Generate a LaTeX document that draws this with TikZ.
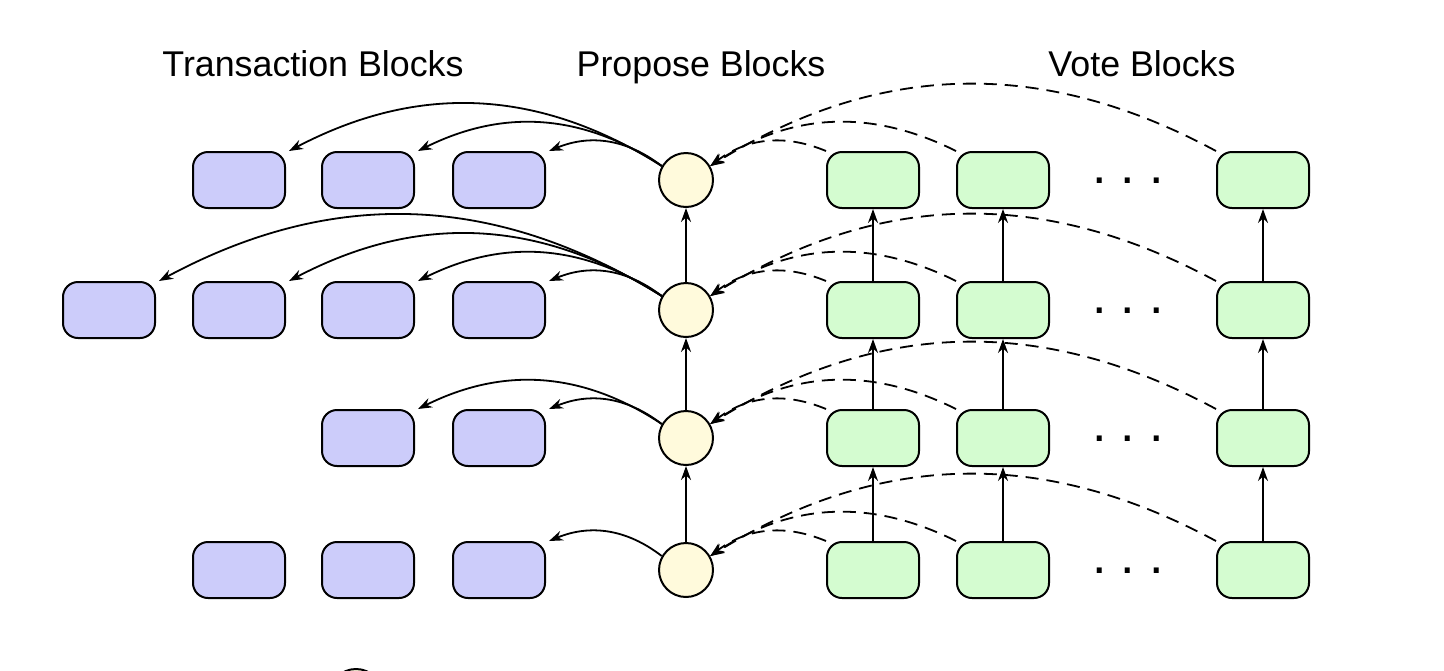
\documentclass[tikz,border=0pt]{standalone}
\usepackage{fontspec}
\setmainfont{Liberation Sans}
\usetikzlibrary{arrows.meta}
\definecolor{txfill}{RGB}{204,204,250}
\definecolor{vtfill}{RGB}{212,252,208}
\definecolor{prfill}{RGB}{255,250,220}
\begin{document}
\begin{tikzpicture}[x=0.5pt,y=-0.5pt,
  blk/.style={draw,line width=1pt,rounded corners=7.5pt,minimum width=46pt,minimum height=28pt,inner sep=0pt},
  tx/.style={blk,fill=txfill},
  vt/.style={blk,fill=vtfill},
  pr/.style={draw,line width=1pt,circle,fill=prfill,minimum size=27pt,inner sep=0pt},
  arr/.style={line width=0.9pt,-{Stealth[length=7pt,width=5pt,inset=2.3pt]}},
  darr/.style={arr,dash pattern=on 6.5pt off 4pt},
  lbl/.style={anchor=base,font=\fontsize{17.9}{21}\selectfont,inner sep=0pt},
  dotsnode/.style={anchor=base,font=\fontsize{26}{26}\selectfont,inner sep=0pt}
]
\useasboundingbox (0,0) rectangle (1444,670);

\node[lbl] (lt) at (313,76) {Transaction Blocks};
\node[lbl] (lp) at (701,76) {Propose Blocks};
\node[lbl] (lv) at (1142,76) {Vote Blocks};

\foreach \r/\y in {1/180,2/310,3/438,4/570}{
  \node[pr] (p\r) at (686,\y) {};
  \node[vt] (v\r a) at (873,\y) {};
  \node[vt] (v\r b) at (1003,\y) {};
  \node[vt] (v\r c) at (1263,\y) {};
  \node[dotsnode] (d\r) at (1128,\y+3) {.\hspace{7pt}.\hspace{7pt}.};
  \draw[darr] (v\r a.north west) to[bend right=30] (p\r.30);
  \draw[darr] (v\r b.north west) to[bend right=30] (p\r.30);
  \draw[darr] (v\r c.north west) to[bend right=30] (p\r.30);
}

% transaction blocks
\node[tx] (t1B) at (239,180) {};
\node[tx] (t1C) at (368,180) {};
\node[tx] (t1D) at (499,180) {};
\node[tx] (t2A) at (109,310) {};
\node[tx] (t2B) at (239,310) {};
\node[tx] (t2C) at (368,310) {};
\node[tx] (t2D) at (499,310) {};
\node[tx] (t3C) at (368,438) {};
\node[tx] (t3D) at (499,438) {};
\node[tx] (t4B) at (239,570) {};
\node[tx] (t4C) at (368,570) {};
\node[tx] (t4D) at (499,570) {};

\foreach \r/\b in {1/B,1/C,1/D,2/A,2/B,2/C,2/D,3/C,3/D,4/D}{
  \draw[arr] (p\r.150) to[bend right=30] ([xshift=1.5pt]t\r\b.north east);
}

% vertical chains
\foreach \lo/\hi in {2/1,3/2,4/3}{
  \draw[arr] (p\lo.north) -- (p\hi.south);
  \draw[arr] (v\lo a.north) -- (v\hi a.south);
  \draw[arr] (v\lo b.north) -- (v\hi b.south);
  \draw[arr] (v\lo c.north) -- (v\hi c.south);
}

% partly visible circle at the bottom edge
\node[pr] (legend) at (356,696) {};
\end{tikzpicture}
\end{document}
